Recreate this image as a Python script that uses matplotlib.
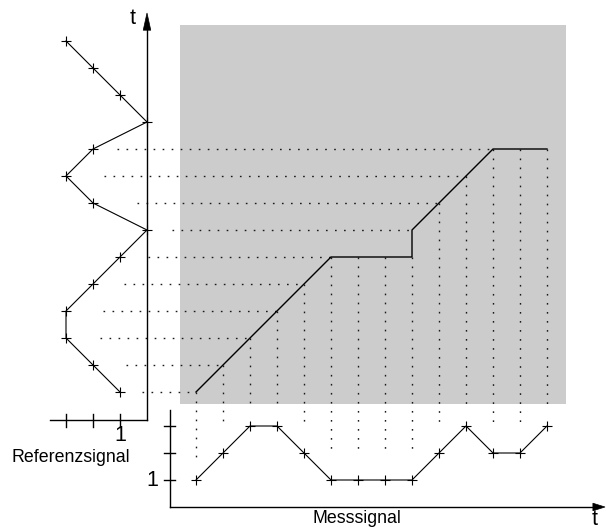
import matplotlib
matplotlib.use("Agg")
import matplotlib.pyplot as plt
from matplotlib.patches import Rectangle, Polygon

plt.rcParams['font.family'] = ['Liberation Sans', 'DejaVu Sans']
plt.rcParams['lines.scale_dashes'] = False

# Messsignal (x-index 0..13) and Referenzsignal (y-index 0..13)
mess = [1, 2, 3, 3, 2, 1, 1, 1, 1, 2, 3, 2, 2, 3]
ref = [1, 2, 3, 3, 2, 1, 0, 2, 3, 2, 0, 1, 2, 3]

# warping path (index in Messsignal, index in Referenzsignal)
path_i = [0, 1, 2, 3, 4, 5, 6, 7, 8, 8, 9, 10, 11, 12, 13]
path_j = [0, 1, 2, 3, 4, 5, 5, 5, 5, 6, 7, 8, 9, 9, 9]

# gap between marker and start of the dotted helper lines
gap_ref = [0.81, 1.22, 1.26, 1.37, 1.15, 1.04, 0.93, 1.63, 1.41, 0.89]
gap_mess = [0.81, 0.93, 0.67, 0.67, 1.11, 1.04, 1.04, 1.04, 1.04, 0.93, 0.67, 1.11, 1.11, 0.67]

# grid unit = 27 px, origin at first point of the path
U = 27.0
x_ref0 = -49 / U      # Referenzsignal axis (value 0)
y_ref0 = -28.3 / U    # its horizontal base line
x_mes0 = -26.5 / U    # Messsignal vertical axis
y_mes0 = -115 / U     # Messsignal axis (value 0)

fig = plt.figure(figsize=(6.06, 5.31), dpi=100)
ax = fig.add_axes([0, 0, 1, 1])
ax.set_xlim(-196 / U, 410 / U)
ax.set_ylim(-139 / U, 392 / U)
ax.axis('off')

# grey cost matrix area
ax.add_patch(Rectangle((-16 / U, -12 / U), 386 / U, 379 / U,
                       facecolor='#cccccc', edgecolor='none', zorder=0))

dots = dict(color='0.1', lw=1.0, linestyle=(0, (1.2, 5.3)), zorder=1)
lw_ax = 1.0
lw_sig = 0.8
mk = dict(marker='+', markersize=7.5, markeredgewidth=0.8)

# horizontal helper lines: reference point -> path
for j in range(len(gap_ref)):
    first = min(i for i, jj in zip(path_i, path_j) if jj == j)
    ax.plot([x_ref0 - ref[j] + gap_ref[j], first], [j, j], **dots)

# vertical helper lines: path -> measured point
for i in range(len(mess)):
    low = min(jj for ii, jj in zip(path_i, path_j) if ii == i)
    ax.plot([i, i], [low, y_mes0 + mess[i] + gap_mess[i]], **dots)

# warping path
ax.plot(path_i, path_j, color='black', lw=1.0, zorder=3)

# Referenzsignal (vertical)
ax.plot([x_ref0 - v for v in ref], range(len(ref)), color='black', lw=lw_sig, zorder=3, **mk)
ax.plot([x_ref0, x_ref0], [y_ref0, 13.4], color='black', lw=lw_ax, zorder=3)
ax.plot([-146 / U, x_ref0], [y_ref0, y_ref0], color='black', lw=lw_ax, zorder=3)
for v in [1, 2, 3]:
    ax.plot([x_ref0 - v] * 2, [y_ref0 - 0.24, y_ref0 + 0.24], color='black', lw=lw_ax, zorder=3)
ax.add_patch(Polygon([[x_ref0 - 0.14, 13.4], [x_ref0 + 0.14, 13.4], [x_ref0, 379 / U]],
                     closed=True, facecolor='black', edgecolor='black', lw=0.5, zorder=3))

# Messsignal (horizontal)
ax.plot(range(len(mess)), [y_mes0 + v for v in mess], color='black', lw=lw_sig, zorder=3, **mk)
ax.plot([x_mes0, 14.7], [y_mes0, y_mes0], color='black', lw=lw_ax, zorder=3)
ax.plot([x_mes0, x_mes0], [y_mes0, -18 / U], color='black', lw=lw_ax, zorder=3)
for v in [1, 2, 3]:
    ax.plot([x_mes0 - 0.22, x_mes0 + 0.22], [y_mes0 + v] * 2, color='black', lw=lw_ax, zorder=3)
ax.add_patch(Polygon([[14.7, y_mes0 - 0.14], [14.7, y_mes0 + 0.14], [409 / U, y_mes0]],
                     closed=True, facecolor='black', edgecolor='black', lw=0.5, zorder=3))

# texts
ax.text(-2.33, 13.85, 't', fontsize=15.5, ha='center', va='center')
ax.text(14.78, -4.74, 't', fontsize=15.5, ha='center', va='center')
ax.text(x_ref0 - 1, -1.62, '1', fontsize=15.5, ha='center', va='center')
ax.text(-1.6, y_mes0 + 1, '1', fontsize=15.5, ha='center', va='center')
ax.text(-4.63, -2.44, 'Referenzsignal', fontsize=12.8, ha='center', va='center')
ax.text(5.96, -4.67, 'Messsignal', fontsize=12.8, ha='center', va='center')

fig.savefig('out.png', dpi=100)
